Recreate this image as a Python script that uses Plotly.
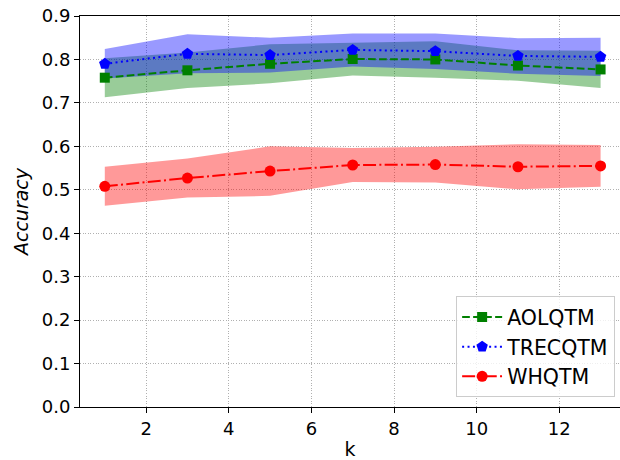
import plotly.graph_objects as go

k = [1, 3, 5, 7, 9, 11, 13]

aol_mean = [0.758, 0.775, 0.790, 0.801, 0.800, 0.786, 0.777]
aol_std = [0.045, 0.041, 0.045, 0.038, 0.042, 0.035, 0.043]

trec_mean = [0.790, 0.813, 0.810, 0.822, 0.819, 0.808, 0.806]
trec_std = [0.034, 0.045, 0.040, 0.038, 0.041, 0.041, 0.044]

wh_mean = [0.508, 0.527, 0.543, 0.557, 0.558, 0.553, 0.555]
wh_std = [0.045, 0.045, 0.057, 0.039, 0.041, 0.052, 0.048]

x_ticks = [2, 4, 6, 8, 10, 12]
y_ticks = [0.0, 0.1, 0.2, 0.3, 0.4, 0.5, 0.6, 0.7, 0.8, 0.9]

FONT = "DejaVu Sans"
fig = go.Figure()


def band(mean, std, color):
    upper = [m + s for m, s in zip(mean, std)]
    lower = [m - s for m, s in zip(mean, std)]
    return go.Scatter(
        x=k + k[::-1], y=upper + lower[::-1], fill="toself",
        fillcolor=color, line=dict(width=0), mode="lines",
        hoverinfo="skip", showlegend=False)


fig.add_trace(band(aol_mean, aol_std, "rgba(0,128,0,0.4)"))
fig.add_trace(band(trec_mean, trec_std, "rgba(0,0,255,0.4)"))
fig.add_trace(band(wh_mean, wh_std, "rgba(255,0,0,0.4)"))

fig.add_trace(go.Scatter(
    x=k, y=aol_mean, name="AOLQTM", mode="lines+markers",
    line=dict(color="#008000", width=2, dash="7.7px,3.3px"),
    marker=dict(symbol="square", size=10, color="#008000")))
fig.add_trace(go.Scatter(
    x=k, y=trec_mean, name="TRECQTM", mode="lines+markers",
    line=dict(color="#0000ff", width=2, dash="2px,3.4px"),
    marker=dict(symbol="pentagon", size=12, color="#0000ff")))
fig.add_trace(go.Scatter(
    x=k, y=wh_mean, name="WHQTM", mode="lines+markers",
    line=dict(color="#ff0000", width=2, dash="13px,3.3px,2px,3.3px"),
    marker=dict(symbol="circle", size=11, color="#ff0000")))

fig.update_layout(
    width=620, height=460,
    margin=dict(l=80, r=0, t=16, b=53),
    paper_bgcolor="white", plot_bgcolor="white",
    font=dict(family=FONT, size=18, color="black"),
    showlegend=True,
    legend=dict(
        x=0.991, y=0.025, xanchor="right", yanchor="bottom",
        bgcolor="rgba(255,255,255,0.8)", bordercolor="#cccccc", borderwidth=1,
        font=dict(family=FONT, size=20.5, color="black"),
        itemwidth=40,
    ),
)

fig.update_xaxes(
    range=[0.4, 13.47], tickvals=x_ticks, ticktext=[str(v) for v in x_ticks],
    showline=True, linecolor="black", linewidth=1, mirror=True,
    ticks="outside", ticklen=5, tickwidth=1, tickcolor="black",
    showgrid=True, gridcolor="#b0b0b0", griddash="1px,1.6px", gridwidth=1,
    zeroline=False,
    title=dict(text="k", font=dict(family=FONT, size=19), standoff=7),
)
fig.update_yaxes(
    range=[0.0, 0.9], tickvals=y_ticks, ticktext=[f"{v:.1f}" for v in y_ticks],
    showline=True, linecolor="black", linewidth=1,
    ticks="outside", ticklen=5, tickwidth=1, tickcolor="black",
    showgrid=True, gridcolor="#b0b0b0", griddash="1px,1.6px", gridwidth=1,
    zeroline=False,
    title=dict(text="<i>Accuracy</i>", font=dict(family=FONT, size=19), standoff=8),
)

fig.write_html("out.html")
